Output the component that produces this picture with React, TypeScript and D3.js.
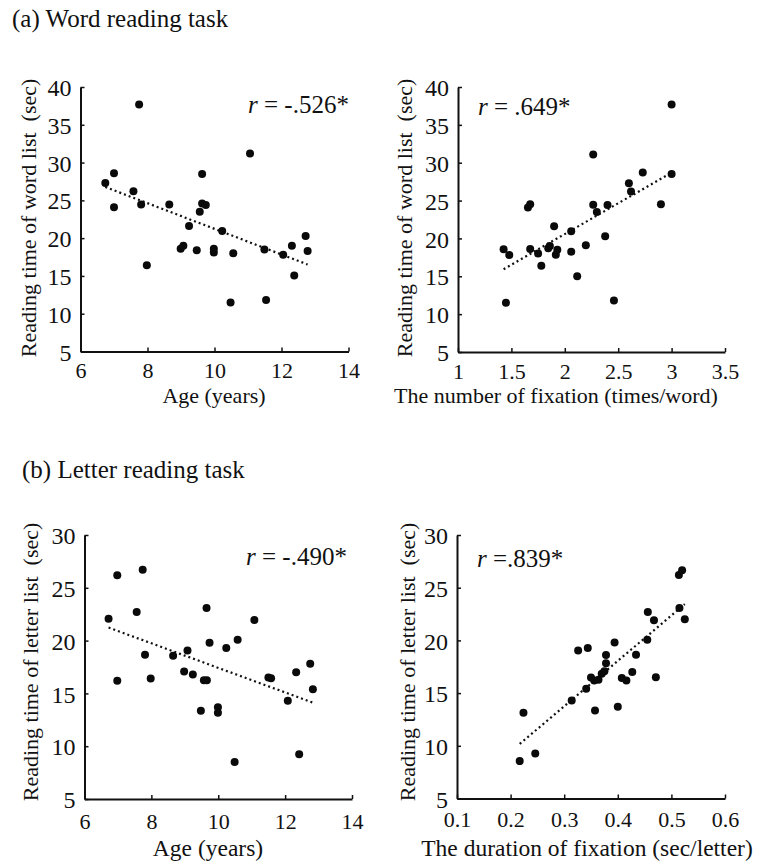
import React, { useRef, useEffect } from 'react';
import * as d3 from 'd3';

// (a) word reading task: age vs reading time
const wordAge = [6.74, 7.0, 7.0, 7.75, 7.58, 7.81, 7.98, 8.65, 8.99, 9.07, 9.24, 9.47, 9.56, 9.63, 9.63, 9.74, 9.98, 9.98, 10.23, 10.48, 10.56, 11.06, 11.49, 11.54, 12.05, 12.31, 12.38, 12.72, 12.78];
const wordAgeTime = [27.3, 28.6, 24.1, 37.7, 26.2, 24.45, 16.4, 24.45, 18.6, 19.0, 21.6, 18.4, 23.5, 28.5, 24.6, 24.4, 18.6, 18.1, 20.95, 11.5, 18.0, 31.2, 18.5, 11.8, 17.8, 19.0, 15.05, 20.3, 18.3];

// (a) number of fixation vs reading time
const wordFix = [1.427, 1.449, 1.48, 1.655, 1.676, 1.676, 1.75, 1.78, 1.845, 1.86, 1.90, 1.916, 1.93, 2.06, 2.06, 2.116, 2.197, 2.266, 2.266, 2.30, 2.378, 2.40, 2.46, 2.60, 2.62, 2.73, 2.90, 3.0, 3.0];
const wordFixTime = [18.56, 11.5, 17.8, 24.1, 24.5, 18.6, 18.0, 16.4, 18.7, 19.0, 21.6, 17.85, 18.5, 20.95, 18.25, 15.0, 19.1, 31.1, 24.45, 23.5, 20.3, 24.4, 11.8, 27.3, 26.2, 28.7, 24.5, 28.5, 37.7];

// (b) letter reading task: age vs reading time
const letterAge = [6.72, 6.98, 6.98, 7.56, 7.74, 7.81, 7.98, 8.65, 8.98, 9.08, 9.24, 9.48, 9.57, 9.65, 9.66, 9.74, 9.99, 9.99, 10.24, 10.49, 10.58, 11.08, 11.50, 11.58, 12.08, 12.33, 12.42, 12.75, 12.83];
const letterAgeTime = [22.07, 26.2, 16.2, 22.7, 26.7, 18.65, 16.4, 18.56, 17.08, 19.06, 16.8, 13.35, 16.24, 23.08, 16.24, 19.8, 13.7, 13.16, 19.3, 8.5, 20.07, 21.95, 16.5, 16.43, 14.3, 17.0, 9.24, 17.8, 15.4];

// (b) duration of fixation vs reading time
const letterDur = [0.217, 0.224, 0.246, 0.314, 0.326, 0.341, 0.344, 0.35, 0.356, 0.3575, 0.364, 0.37, 0.375, 0.378, 0.378, 0.394, 0.40, 0.4075, 0.416, 0.427, 0.434, 0.455, 0.456, 0.4675, 0.471, 0.514, 0.515, 0.52, 0.525];
const letterDurTime = [8.55, 13.13, 9.27, 14.3, 19.03, 15.42, 19.28, 16.49, 16.2, 13.35, 16.27, 16.83, 17.08, 17.84, 18.62, 19.8, 13.7, 16.43, 16.2, 17.0, 18.65, 20.07, 22.7, 21.9, 16.5, 26.2, 23.08, 26.65, 22.0];

const wordYTicks = [5, 10, 15, 20, 25, 30, 35, 40];
const letterYTicks = [5, 10, 15, 20, 25, 30];
const ageTicks = [6, 8, 10, 12, 14];
const fixTicks = [1, 1.5, 2, 2.5, 3, 3.5];
const durTicks = [0.1, 0.2, 0.3, 0.4, 0.5, 0.6];

const FONT = '"Liberation Serif", "Times New Roman", serif';

const panels = [
  {
    xs: wordAge, ys: wordAgeTime, xTicks: ageTicks, yTicks: wordYTicks,
    x0: 80.5, x1: 348.5, y0: 351.5, y1: 87, pad: 11,
    xTitle: 'Age (years)', yTitle: 'Reading time of word list  (sec)', r: ' = -.526*',
    rx: 248, ry: 113, xtx: 214, xty: 403, xts: 22, ytx: 28, yty: 218, xfmt: (d: number) => String(d),
  },
  {
    xs: wordFix, ys: wordFixTime, xTicks: fixTicks, yTicks: wordYTicks,
    x0: 458, x1: 725, y0: 352, y1: 87, pad: 11,
    xTitle: 'The number of fixation (times/word)', yTitle: 'Reading time of word list  (sec)', r: ' = .649*',
    rx: 478, ry: 115, xtx: 556, xty: 403, xts: 22, ytx: 404, yty: 218, xfmt: (d: number) => String(d),
  },
  {
    xs: letterAge, ys: letterAgeTime, xTicks: ageTicks, yTicks: letterYTicks,
    x0: 84.5, x1: 352, y0: 799, y1: 535, pad: 14,
    xTitle: 'Age (years)', yTitle: 'Reading time of letter list  (sec)', r: ' = -.490*',
    rx: 246, ry: 565, xtx: 208, xty: 856, xts: 23.5, ytx: 30, yty: 662, xfmt: (d: number) => String(d),
  },
  {
    xs: letterDur, ys: letterDurTime, xTicks: durTicks, yTicks: letterYTicks,
    x0: 457, x1: 725, y0: 798.5, y1: 535, pad: 13,
    xTitle: 'The duration of fixation (sec/letter)', yTitle: 'Reading time of letter list  (sec)', r: ' =.839*',
    rx: 477, ry: 567, xtx: 587, xty: 856, xts: 23.5, ytx: 407, yty: 662, xfmt: (d: number) => d.toFixed(1),
  },
];

const App = () => {
  const ref = useRef<SVGSVGElement>(null);

  useEffect(() => {
    document.body.style.margin = '0';
    const svg = d3.select(ref.current);
    svg.selectAll('*').remove();

    svg.append('text').attr('x', 12).attr('y', 27).attr('font-size', 25).text('(a) Word reading task');
    svg.append('text').attr('x', 22).attr('y', 478).attr('font-size', 25).text('(b) Letter reading task');

    panels.forEach((p) => {
      const xExt = [p.xTicks[0], p.xTicks[p.xTicks.length - 1]];
      const yExt = [p.yTicks[0], p.yTicks[p.yTicks.length - 1]];
      const x = d3.scaleLinear().domain(xExt).range([p.x0, p.x1]);
      const y = d3.scaleLinear().domain(yExt).range([p.y0, p.y1]);

      const gx = svg.append('g').attr('transform', `translate(0,${p.y0})`)
        .call(d3.axisBottom(x).tickValues(p.xTicks).tickFormat(p.xfmt as any).tickSizeInner(-4).tickSizeOuter(0).tickPadding(p.pad));
      const gy = svg.append('g').attr('transform', `translate(${p.x0},0)`)
        .call(d3.axisLeft(y).tickValues(p.yTicks).tickSizeInner(-4).tickSizeOuter(0).tickPadding(9));
      [gx, gy].forEach((g) => {
        g.select('.domain').attr('stroke', '#111').attr('stroke-width', 2);
        g.selectAll('.tick line').attr('stroke', '#111').attr('stroke-width', 1.5);
        g.selectAll('.tick text').attr('font-family', FONT).attr('fill', '#111');
      });
      gx.selectAll('.tick text').attr('font-size', 22);
      gy.selectAll('.tick text').attr('font-size', 24).attr('dy', '0.36em');

      // least-squares trend line
      const n = p.xs.length;
      const mx = d3.mean(p.xs) as number;
      const my = d3.mean(p.ys) as number;
      let sxy = 0, sxx = 0;
      for (let i = 0; i < n; i++) {
        sxy += (p.xs[i] - mx) * (p.ys[i] - my);
        sxx += (p.xs[i] - mx) ** 2;
      }
      const b = sxy / sxx;
      const a = my - b * mx;
      const [lo, hi] = d3.extent(p.xs) as [number, number];
      const line = d3.line<number>().x((d) => x(d)).y((d) => y(a + b * d));
      svg.append('path').attr('d', line([lo, hi]))
        .attr('fill', 'none').attr('stroke', '#111').attr('stroke-width', 2.2)
        .attr('stroke-dasharray', '2,3');

      svg.append('g').selectAll('circle').data(p.xs).join('circle')
        .attr('cx', (d) => x(d)).attr('cy', (_d, i) => y(p.ys[i]))
        .attr('r', 4).attr('fill', '#0a0a0a');

      const rt = svg.append('text').attr('x', p.rx).attr('y', p.ry).attr('font-size', 25)
        .attr('xml:space', 'preserve').style('white-space', 'pre');
      rt.append('tspan').attr('font-style', 'italic').text('r');
      rt.append('tspan').text(p.r);

      svg.append('text').attr('x', p.xtx).attr('y', p.xty).attr('font-size', p.xts)
        .attr('text-anchor', 'middle').text(p.xTitle);
      svg.append('text').attr('transform', `translate(${p.ytx},${p.yty}) rotate(-90)`)
        .attr('font-size', 22).attr('text-anchor', 'middle').attr('dy', '0.35em')
        .attr('xml:space', 'preserve').style('white-space', 'pre').text(p.yTitle);
    });
  }, []);

  return (
    <svg ref={ref} width={758} height={866} style={{ display: 'block', background: '#fff', fontFamily: FONT, fill: '#111' }} />
  );
};

export default App;
